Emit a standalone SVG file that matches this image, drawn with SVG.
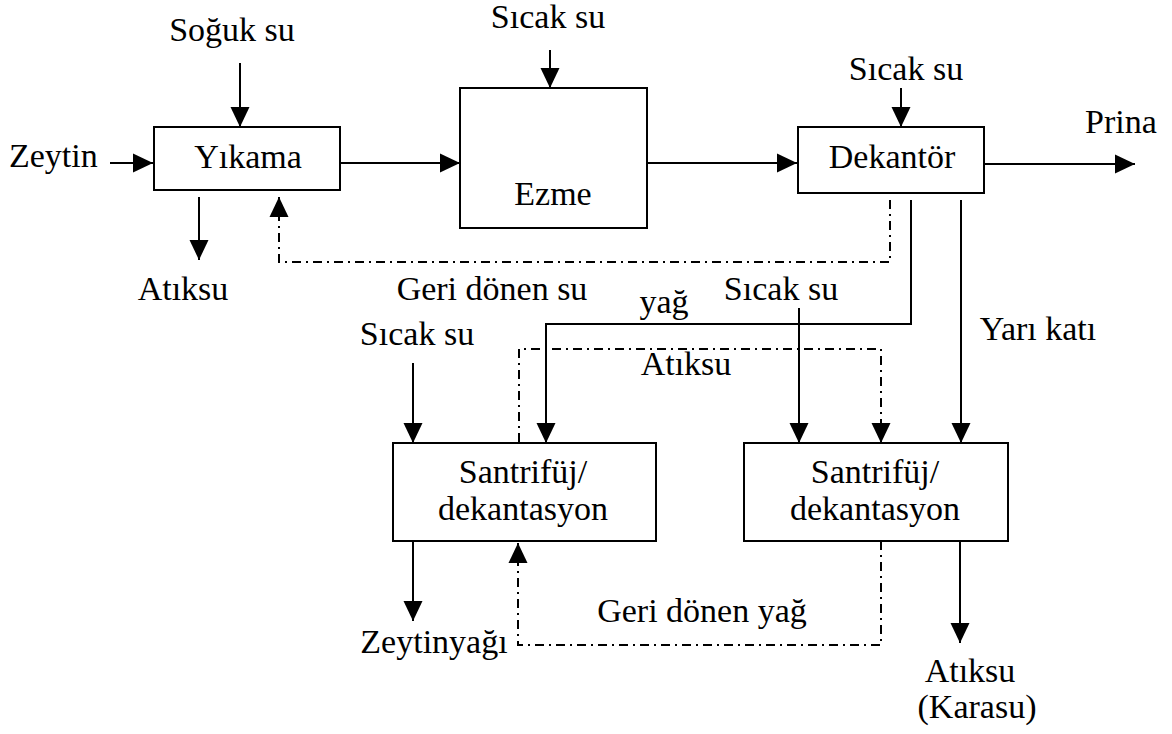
<svg xmlns="http://www.w3.org/2000/svg" width="1172" height="734" viewBox="0 0 1172 734">
<style>
text{font-family:"Liberation Serif","Times New Roman",serif;font-size:34px;fill:#000}
.m{text-anchor:middle}
.box{fill:#fff;stroke:#000;stroke-width:2}
.ln{fill:none;stroke:#000;stroke-width:2}
.dd{fill:none;stroke:#000;stroke-width:2;stroke-dasharray:9 5 2 5}
</style>
<defs>
<marker id="ah" markerUnits="userSpaceOnUse" markerWidth="21" markerHeight="21" refX="20" refY="10.5" orient="auto">
<path d="M0,1 L20,10.5 L0,20 z" fill="#000"/>
</marker>
</defs>
<g id="connectors">
<line class="ln" x1="110" y1="163" x2="153" y2="163" marker-end="url(#ah)"/>
<line class="ln" x1="240" y1="63" x2="240" y2="127" marker-end="url(#ah)"/>
<line class="ln" x1="199" y1="197" x2="199" y2="260" marker-end="url(#ah)"/>
<line class="ln" x1="340" y1="163" x2="460" y2="163" marker-end="url(#ah)"/>
<line class="ln" x1="550" y1="50" x2="550" y2="88" marker-end="url(#ah)"/>
<line class="ln" x1="647" y1="163" x2="797" y2="163" marker-end="url(#ah)"/>
<line class="ln" x1="901" y1="88" x2="901" y2="127" marker-end="url(#ah)"/>
<line class="ln" x1="984" y1="164" x2="1135" y2="164" marker-end="url(#ah)"/>
<polyline class="dd" points="890,200 890,262 279,262 279,197" marker-end="url(#ah)"/>
<polyline class="ln" points="911,200 911,324 546,324 546,443" marker-end="url(#ah)"/>
<line class="ln" x1="961" y1="200" x2="961" y2="443" marker-end="url(#ah)"/>
<line class="ln" x1="413" y1="363" x2="413" y2="443" marker-end="url(#ah)"/>
<line class="ln" x1="799" y1="308" x2="799" y2="443" marker-end="url(#ah)"/>
<polyline class="dd" points="519,442 519,349 881,349 881,443" marker-end="url(#ah)"/>
<line class="ln" x1="413" y1="541" x2="413" y2="621" marker-end="url(#ah)"/>
<polyline class="dd" points="881,541 881,645 518,645 518,543" marker-end="url(#ah)"/>
<line class="ln" x1="960" y1="541" x2="960" y2="643" marker-end="url(#ah)"/>
</g>
<g id="yikama"><rect class="box" x="154" y="127" width="186" height="63"/><text class="m" x="248" y="168">Yıkama</text></g>
<g id="ezme"><rect class="box" x="460" y="88" width="187" height="140"/><text class="m" x="553" y="205">Ezme</text></g>
<g id="dekantor"><rect class="box" x="798" y="127" width="186" height="66"/><text class="m" x="892" y="168">Dekantör</text></g>
<g id="santrifuj1"><rect class="box" x="393" y="443" width="263" height="98"/><text class="m" x="523" y="483">Santrifüj/</text><text class="m" x="523" y="520">dekantasyon</text></g>
<g id="santrifuj2"><rect class="box" x="744" y="443" width="264" height="98"/><text class="m" x="875" y="483">Santrifüj/</text><text class="m" x="875" y="520">dekantasyon</text></g>
<g id="labels">
<text class="m" x="232" y="41">Soğuk su</text>
<text x="9" y="167">Zeytin</text>
<text class="m" x="183" y="300">Atıksu</text>
<text class="m" x="548" y="28">Sıcak su</text>
<text class="m" x="906" y="80">Sıcak su</text>
<text class="m" x="1121" y="133">Prina</text>
<text class="m" x="492" y="300">Geri dönen su</text>
<text class="m" x="664" y="313">yağ</text>
<text class="m" x="781" y="300">Sıcak su</text>
<text class="m" x="417" y="345">Sıcak su</text>
<text class="m" x="686" y="375">Atıksu</text>
<text class="m" x="1038" y="340">Yarı katı</text>
<text class="m" x="702" y="622">Geri dönen yağ</text>
<text class="m" x="434" y="653">Zeytinyağı</text>
<text class="m" x="970" y="682">Atıksu</text>
<text class="m" x="977" y="718">(Karasu)</text>
</g>
</svg>
